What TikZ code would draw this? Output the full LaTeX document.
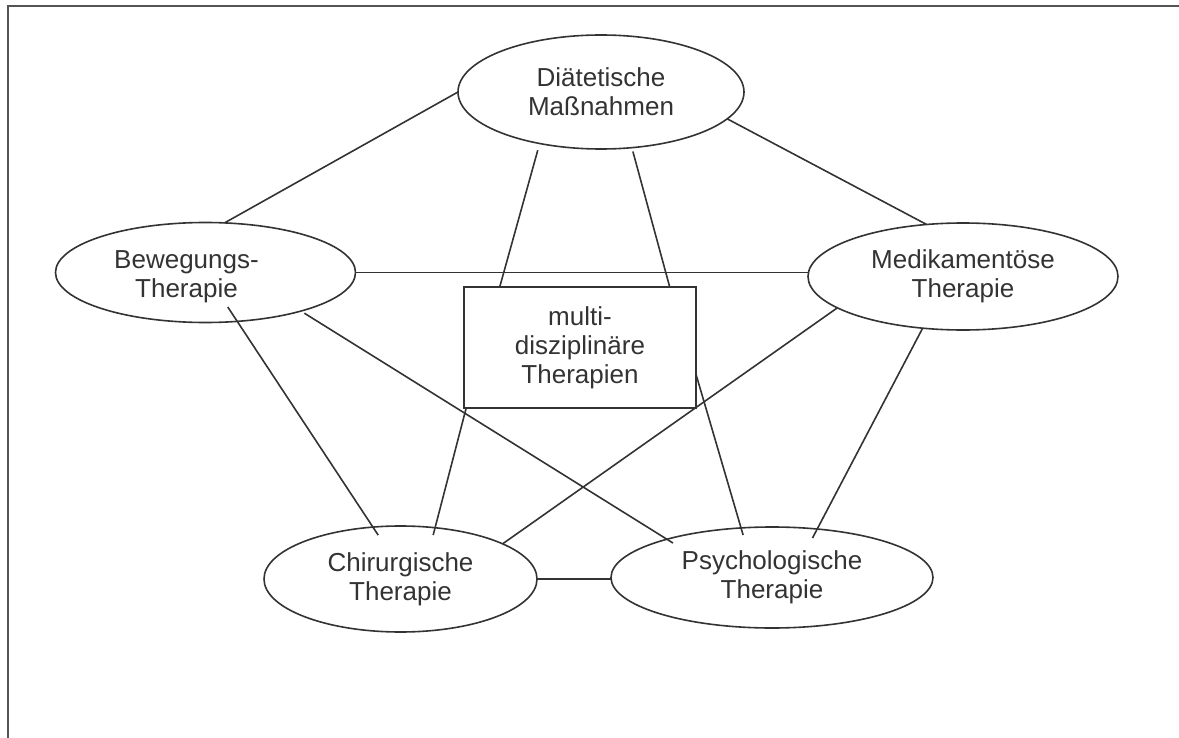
\documentclass[tikz,border=0pt]{standalone}
\usepackage{fontspec}
\setmainfont{Liberation Sans}
\usepackage{tikz}
\usetikzlibrary{shapes.geometric}
\definecolor{ink}{HTML}{333333}
\definecolor{rim}{HTML}{555555}

\begin{document}
\begin{tikzpicture}[x=0.5pt,y=-0.5pt,
	therapytext/.style={align=center,text=ink,inner sep=0pt,font=\fontsize{13pt}{14.5pt}\selectfont},
	therapy/.style={therapytext,ellipse,draw=ink,line width=0.8pt,outer sep=0pt},
	hub/.style={therapytext,rectangle,draw=ink,line width=0.8pt,outer sep=0pt},
	link/.style={draw=ink,line width=0.8pt}]
	\useasboundingbox (0,0) rectangle (1179,738);
	\draw[rim,line width=0.6pt] (8,738) -- (8,6) -- (1179,6);

	% therapies
	\node[therapy,minimum width=143pt,minimum height=57pt] (diaet) at (601,92) {Diätetische\\Maßnahmen};
	\node[therapy,minimum width=150pt,minimum height=50pt,
		label={[therapytext,xshift=-9.5pt,yshift=-2.25pt]center:Bewegungs-\\Therapie}] (bew) at (205.5,272.5) {};
	\node[therapy,minimum width=155pt,minimum height=53.5pt] (medik) at (963,276.5) {Medikamentöse\\Therapie};
	\node[therapy,minimum width=136.5pt,minimum height=53pt] (chir) at (400.5,579) {Chirurgische\\Therapie};
	\node[therapy,minimum width=161pt,minimum height=50.5pt] (psych) at (772,577.5) {Psychologische\\Therapie};
	\node[hub,minimum width=116pt,minimum height=60.5pt] (multi) at (580,347.5) {multi-\\disziplinäre\\Therapien};

	% links
	\draw[link] (bew.69) -- (diaet.west);
	\draw[link] (diaet.-12) -- (medik.125);
	\draw[link,shorten <=3.5pt] (diaet.220) -- (multi.143);
	\draw[link,shorten <=2pt] (diaet.299) -- (multi.34);
	\draw[link] (bew.east) -- (bew.east -| medik.west);
	\draw[link,shorten <=-8.6pt,shorten >=-4.8pt] (bew.-57) -- (chir.118);
	\draw[link,shorten <=2pt,shorten >=-3.6pt] (bew.-22) -- (psych.160);
	\draw[link] (medik.194) -- (chir.19);
	\draw[link,shorten >=-5.1pt] (medik.232) -- (psych.47);
	\draw[link,shorten >=-3.8pt] (multi.208) -- (chir.56);
	\draw[link,shorten >=-3.7pt] (multi.-13) -- (psych.122);
	\draw[link] (chir.east) -- (chir.east -| psych.west);
\end{tikzpicture}
\end{document}
